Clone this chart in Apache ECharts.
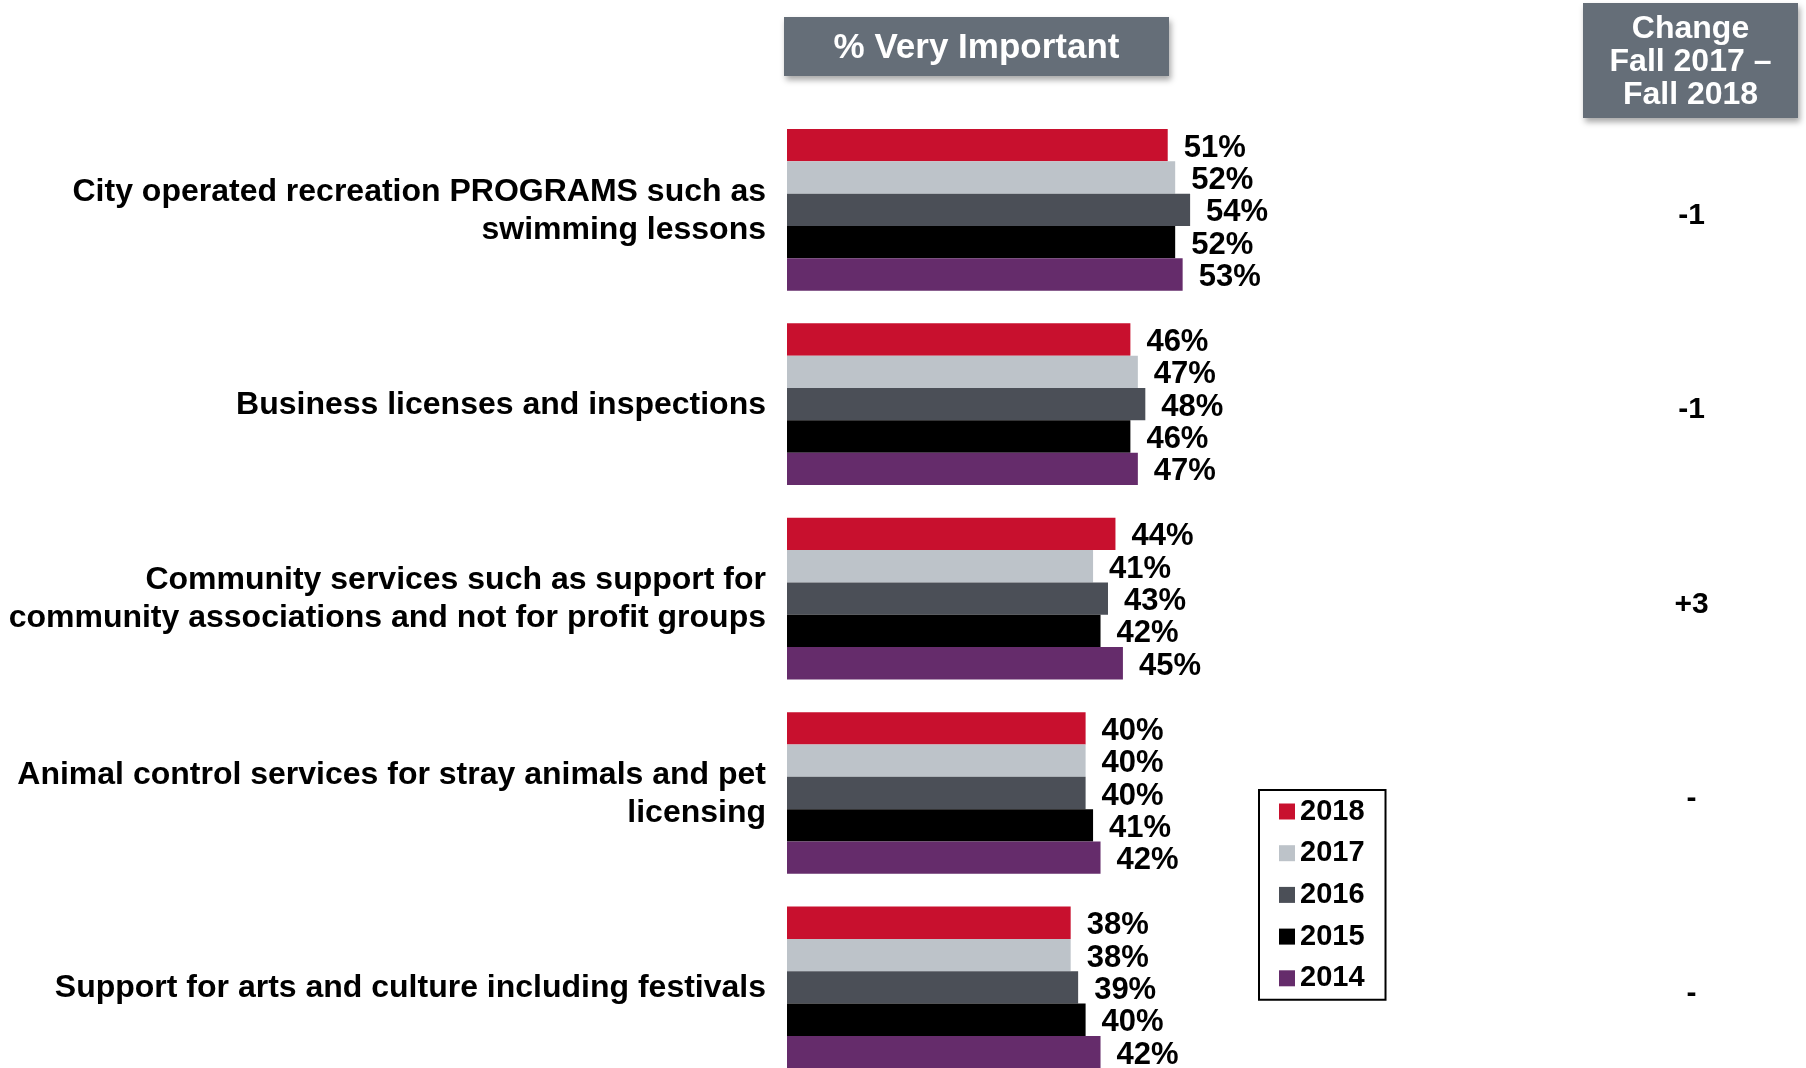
<!DOCTYPE html>
<html>
<head>
<meta charset="utf-8">
<script src="https://cdn.jsdelivr.net/npm/echarts@6/dist/echarts.min.js"></script>
<style>
  html, body { margin: 0; padding: 0; background: #ffffff; }
  #chart { width: 1806px; height: 1068px; }
</style>
</head>
<body>
<div id="chart"></div>
<script>
// Service areas rated "very important", by survey year
const categories = [
  'City operated recreation PROGRAMS such as\nswimming lessons',
  'Business licenses and inspections',
  'Community services such as support for\ncommunity associations and not for profit groups',
  'Animal control services for stray animals and pet\nlicensing',
  'Support for arts and culture including festivals'
];
const years = ['2018', '2017', '2016', '2015', '2014'];
const values2018 = [51, 46, 44, 40, 38];
const values2017 = [52, 47, 41, 40, 38];
const values2016 = [54, 48, 43, 40, 39];
const values2015 = [52, 46, 42, 41, 40];
const values2014 = [53, 47, 45, 42, 42];
const changeLabels = ['-1', '-1', '+3', '-', '-'];

const yearValues = [values2018, values2017, values2016, values2015, values2014];
const yearColors = ['#C8102E', '#BDC3C9', '#4B4F57', '#000000', '#652C6B'];

const FONT = '"Liberation Sans", Arial, sans-serif';

const chart = echarts.init(document.getElementById('chart'), null, { renderer: 'canvas' });

const series = years.map((y, i) => ({
  name: y,
  type: 'bar',
  data: yearValues[i],
  barGap: '0%',
  barCategoryGap: '16.8%',
  itemStyle: { color: yearColors[i] },
  label: {
    show: true,
    position: 'right',
    distance: 16,
    formatter: '{c}%',
    color: '#000',
    fontFamily: FONT,
    fontWeight: 'bold',
    fontSize: 31,
    offset: [0, 3]
  }
}));

// wrap every line of a label in a rich-text block so it can be nudged down
const wrapLines = (tag) => (value) =>
  String(value).split('\n').map((line) => '{' + tag + '|' + line + '}').join('\n');

chart.setOption({
  animation: false,
  backgroundColor: '#ffffff',
  grid: {
    left: 787,
    top: 112.6,
    width: 746.5,
    height: 972,
    containLabel: false,
    outerBoundsMode: 'none'
  },
  xAxis: {
    type: 'value',
    min: 0,
    max: 100,
    show: false
  },
  yAxis: [
    {
      type: 'category',
      data: categories,
      inverse: true,
      axisLine: { show: false },
      axisTick: { show: false },
      axisLabel: {
        margin: 21,
        align: 'right',
        formatter: wrapLines('cat'),
        rich: {
          cat: {
            color: '#000',
            fontFamily: FONT,
            fontWeight: 'bold',
            fontSize: 32,
            lineHeight: 38,
            padding: [2, 0, 0, 0]
          }
        }
      }
    },
    {
      type: 'category',
      data: changeLabels,
      inverse: true,
      position: 'right',
      axisLine: { show: false },
      axisTick: { show: false },
      axisLabel: {
        margin: 158,
        align: 'center',
        formatter: wrapLines('chg'),
        rich: {
          chg: {
            color: '#000',
            fontFamily: FONT,
            fontWeight: 'bold',
            fontSize: 30,
            padding: [12, 0, 0, 0]
          }
        }
      }
    }
  ],
  legend: {
    data: years,
    orient: 'vertical',
    left: 1259,
    top: 790,
    padding: [7, 21, 7, 20],
    itemGap: 12.7,
    itemWidth: 16,
    itemHeight: 16,
    borderColor: '#000',
    borderWidth: 2,
    icon: 'rect',
    textStyle: {
      color: '#000',
      fontFamily: FONT,
      fontWeight: 'bold',
      fontSize: 29,
      lineHeight: 28
    }
  },
  graphic: [
    {
      type: 'group',
      left: 784,
      top: 17,
      children: [
        {
          type: 'rect',
          shape: { x: 0, y: 0, width: 385, height: 59 },
          style: { fill: '#656E78', shadowBlur: 6, shadowOffsetX: 2, shadowOffsetY: 4, shadowColor: 'rgba(0,0,0,0.35)' }
        },
        {
          type: 'text',
          x: 192.5,
          y: 31,
          style: {
            text: '% Very Important',
            fill: '#ffffff',
            font: 'bold 35px ' + FONT,
            align: 'center',
            verticalAlign: 'middle'
          }
        }
      ]
    },
    {
      type: 'group',
      left: 1583,
      top: 3,
      children: [
        {
          type: 'rect',
          shape: { x: 0, y: 0, width: 215, height: 115 },
          style: { fill: '#656E78', shadowBlur: 6, shadowOffsetX: 2, shadowOffsetY: 4, shadowColor: 'rgba(0,0,0,0.35)' }
        },
        {
          type: 'text',
          x: 107.5,
          y: 59,
          style: {
            text: 'Change\nFall 2017 –\nFall 2018',
            fill: '#ffffff',
            font: 'bold 32px ' + FONT,
            lineHeight: 33,
            align: 'center',
            verticalAlign: 'middle'
          }
        }
      ]
    }
  ],
  series: series
});
</script>
</body>
</html>
